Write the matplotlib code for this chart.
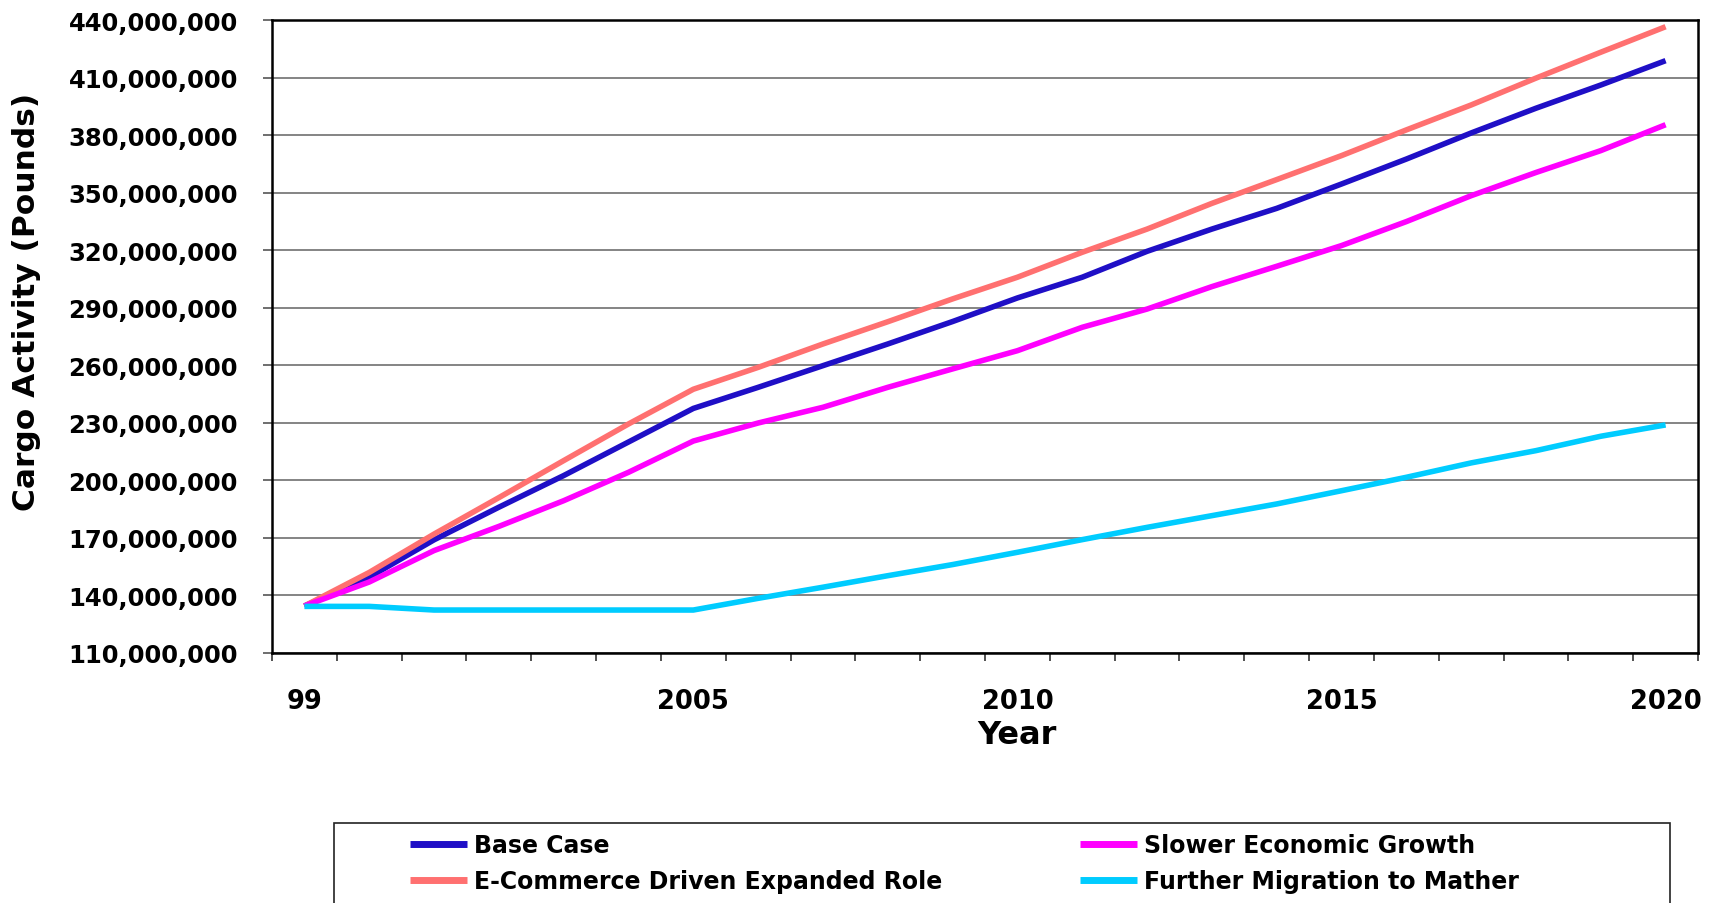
import matplotlib
matplotlib.use("Agg")
import matplotlib.pyplot as plt
from matplotlib.ticker import FuncFormatter, FixedLocator
from matplotlib.patches import Rectangle

# ---- data (millions of pounds) ----
years = list(range(1999, 2021))
year_labels = {1999: "99", 2005: "2005", 2010: "2010", 2015: "2015", 2020: "2020"}

base_case = [134.5, 149.5, 169.0, 186.0, 202.5, 220.0, 237.5, 248.5, 259.8, 271.1, 282.8,
             295.1, 305.9, 319.4, 331.0, 341.8, 354.5, 367.5, 381.1, 394.0, 406.1, 418.8]
ecommerce = [134.5, 152.0, 172.0, 191.0, 210.3, 229.4, 247.5, 258.9, 271.1, 282.7, 294.6,
             305.9, 318.9, 331.0, 344.4, 356.8, 369.3, 382.7, 395.7, 409.7, 423.2, 436.5]
slower = [134.5, 147.0, 163.4, 176.0, 189.4, 204.2, 220.5, 229.9, 238.1, 248.5, 258.1,
          267.6, 279.8, 289.3, 301.0, 311.6, 322.4, 334.9, 348.4, 360.5, 371.9, 385.4]
migration = [134.3, 134.3, 132.4, 132.4, 132.4, 132.4, 132.4, 138.5, 144.3, 150.3, 156.1,
             162.5, 169.1, 175.5, 181.6, 187.7, 194.6, 201.6, 209.1, 215.5, 223.0, 228.9]

series = [
    ("Base Case", base_case, "#1F0FC6"),
    ("E-Commerce Driven Expanded Role", ecommerce, "#FF7070"),
    ("Slower Economic Growth", slower, "#FF00FF"),
    ("Further Migration to Mather", migration, "#00CCFF"),
]

y_ticks = list(range(110, 441, 30))

plt.rcParams["font.family"] = ["DejaVu Sans"]
plt.rcParams["font.weight"] = "bold"

W, H = 1715, 904
fig = plt.figure(figsize=(W / 100, H / 100), dpi=100)
ax = fig.add_axes([272 / W, 1 - 654 / H, (1698 - 272) / W, (654 - 21) / H])

x = list(range(len(years)))
handles = []
for name, vals, col in series:
    vals_abs = [v * 1e6 for v in vals]
    (ln,) = ax.plot(x, vals_abs, color=col, lw=4.0, solid_capstyle="butt", label=name)
    handles.append(ln)

ax.set_xlim(-0.5, len(years) - 0.5)
ax.set_ylim(110e6, 440e6)

# y axis
ax.yaxis.set_major_locator(FixedLocator([v * 1e6 for v in y_ticks]))
ax.yaxis.set_major_formatter(FuncFormatter(lambda v, p: f"{int(round(v)):,}"))
ax.tick_params(axis="y", which="major", direction="out", length=6.5, width=1.2,
               color="#555555", pad=18, labelsize=17.5)
ax.grid(axis="y", color="#6f6f6f", lw=1.2)
ax.set_axisbelow(True)

# x axis: tick marks between categories, labels at selected years
ax.xaxis.set_major_locator(FixedLocator([i - 0.5 for i in range(len(years) + 1)]))
ax.xaxis.set_major_formatter(FuncFormatter(lambda v, p: ""))
lab_pos = [years.index(y) for y in year_labels]
ax.xaxis.set_minor_locator(FixedLocator(lab_pos))
ax.xaxis.set_minor_formatter(FuncFormatter(lambda v, p: year_labels[years[int(round(v))]]))
ax.tick_params(axis="x", which="major", direction="out", length=6, width=1.2, color="#333333")
ax.tick_params(axis="x", which="minor", length=0, pad=25, labelsize=18.5)

for s in ax.spines.values():
    s.set_linewidth(1.8)
    s.set_color("black")

fig.text(27 / W, 1 - 302 / H, "Cargo Activity (Pounds)", rotation=90, ha="center",
         va="center", fontsize=22.5, fontweight="bold")
fig.text(1017 / W, 1 - 736 / H, "Year", ha="center", va="center", fontsize=23,
         fontweight="bold")

# legend frame
fig.add_artist(Rectangle((334 / W, -0.05), (1670 - 334) / W, 0.05 + 1 - 824 / H,
                         transform=fig.transFigure, fill=False, edgecolor="#222222",
                         lw=1.2))

leg_kw = dict(loc="upper left", frameon=False, handlelength=2.4,
              handletextpad=0.3, labelspacing=0.52, borderpad=0, borderaxespad=0,
              prop={"weight": "bold", "size": 17})
leg1 = fig.legend([handles[0], handles[1]], [series[0][0], series[1][0]],
                  bbox_to_anchor=(410 / W, 1 - 834 / H), **leg_kw)
leg2 = fig.legend([handles[2], handles[3]], [series[2][0], series[3][0]],
                  bbox_to_anchor=(1080 / W, 1 - 834 / H), **leg_kw)
for lg in (leg1, leg2):
    for h in lg.legend_handles:
        h.set_linewidth(5)

fig.savefig("out.png", dpi=100)
